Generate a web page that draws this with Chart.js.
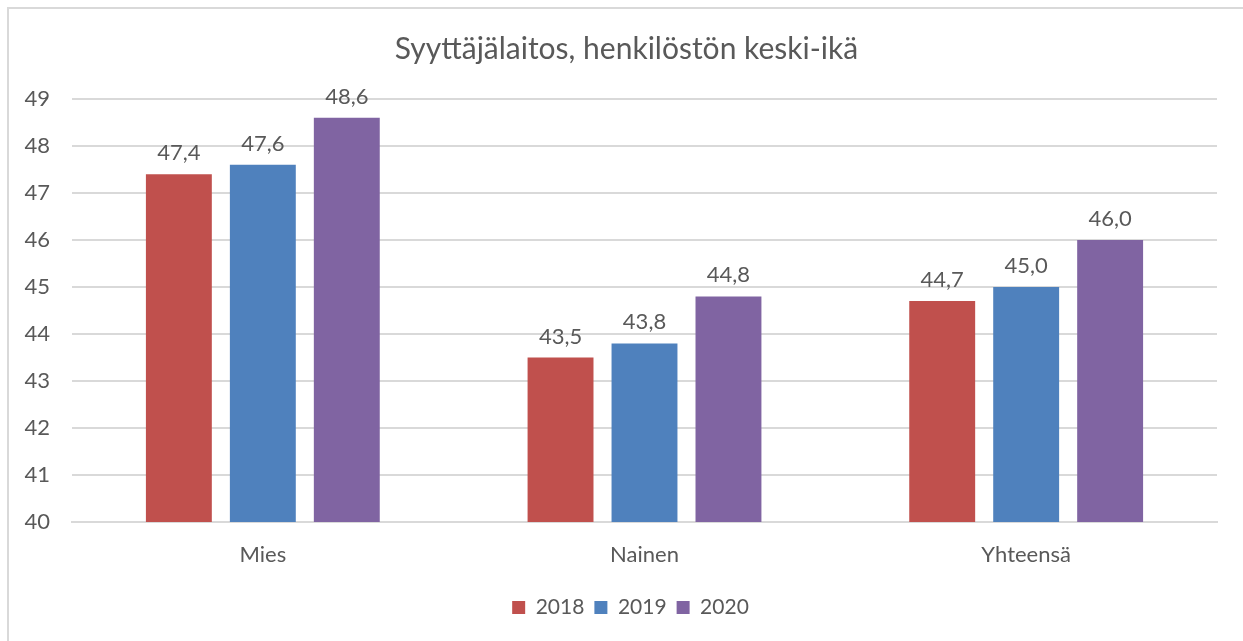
<!DOCTYPE html>
<html>
<head>
<meta charset="utf-8">
<script src="https://cdn.jsdelivr.net/npm/chart.js@4/dist/chart.umd.min.js"></script>
<style>
    html, body { margin: 0; padding: 0; background: #fff; }
    #wrap { position: relative; width: 1243px; height: 641px; }
    #frame { position: absolute; left: 7px; top: 7px; right: 0; bottom: 0; border-top: 2px solid #d9d9d9; border-left: 2px solid #d9d9d9; }
    canvas { position: absolute; left: 0; top: 0; }
</style>
</head>
<body>
<div id="wrap">
    <div id="frame"></div>
    <canvas id="chart" width="1243" height="641"></canvas>
</div>
<script>
// Chart data
const categories = ['Mies', 'Nainen', 'Yhteensä'];
const years = ['2018', '2019', '2020'];
const values2018 = [47.4, 43.5, 44.7];
const values2019 = [47.6, 43.8, 45.0];
const values2020 = [48.6, 44.8, 46.0];
const yTicks = [40, 41, 42, 43, 44, 45, 46, 47, 48, 49];

const textColor = '#595959';
const fontFamily = 'Lato, "Open Sans", sans-serif';

// Draw value labels above each bar (Finnish decimal comma)
const valueLabels = {
    id: 'valueLabels',
    afterDatasetsDraw(chart) {
        const ctx = chart.ctx;
        ctx.save();
        ctx.fillStyle = textColor;
        ctx.font = '22px ' + fontFamily;
        ctx.textAlign = 'center';
        ctx.textBaseline = 'bottom';
        chart.data.datasets.forEach(function(ds, i) {
            chart.getDatasetMeta(i).data.forEach(function(bar, j) {
                const label = ds.data[j].toFixed(1).replace('.', ',');
                ctx.fillText(label, bar.x, bar.y - 10);
            });
        });
        ctx.restore();
    }
};

// Title and legend are centred on the whole frame, not on the plot box
const shiftBlocks = {
    id: 'shiftBlocks',
    afterLayout(chart) {
        if (chart.titleBlock) {
            chart.titleBlock.left += 18;
            chart.titleBlock.right += 18;
        }
        if (chart.legend) {
            chart.legend.left += 22;
            chart.legend.right += 22;
        }
    }
};

const ctx = document.getElementById('chart').getContext('2d');
new Chart(ctx, {
    type: 'bar',
    data: {
        labels: categories,
        datasets: [
            { label: years[0], data: values2018, backgroundColor: '#c0504d' },
            { label: years[1], data: values2019, backgroundColor: '#4f81bd' },
            { label: years[2], data: values2020, backgroundColor: '#8064a2' }
        ]
    },
    options: {
        responsive: false,
        animation: false,
        categoryPercentage: 0.66,
        barPercentage: 0.785,
        layout: { padding: { left: 0, right: 26, top: 0, bottom: 13 } },
        plugins: {
            title: {
                display: true,
                text: 'Syyttäjälaitos, henkilöstön keski-ikä',
                color: textColor,
                font: { family: fontFamily, size: 30, weight: 'normal' },
                padding: { top: 31, bottom: 32 }
            },
            legend: {
                position: 'bottom',
                labels: {
                    color: textColor,
                    font: { family: fontFamily, size: 21 },
                    boxWidth: 13,
                    boxHeight: 13,
                    padding: 10
                }
            },
            tooltip: { enabled: false }
        },
        scales: {
            x: {
                grid: { display: false, drawTicks: false },
                border: { color: '#d9d9d9', width: 2 },
                ticks: { color: textColor, font: { family: fontFamily, size: 22 }, padding: 20 },
                afterFit: function(scale) { scale.height = 65; }
            },
            y: {
                min: yTicks[0],
                max: yTicks[yTicks.length - 1],
                grid: { color: '#d9d9d9', lineWidth: 2, drawTicks: false },
                border: { display: false },
                ticks: {
                    stepSize: 1,
                    color: textColor,
                    font: { family: fontFamily, size: 22 },
                    padding: 22
                },
                afterFit: function(scale) { scale.width = 72; }
            }
        }
    },
    plugins: [valueLabels, shiftBlocks]
});
</script>
</body>
</html>
